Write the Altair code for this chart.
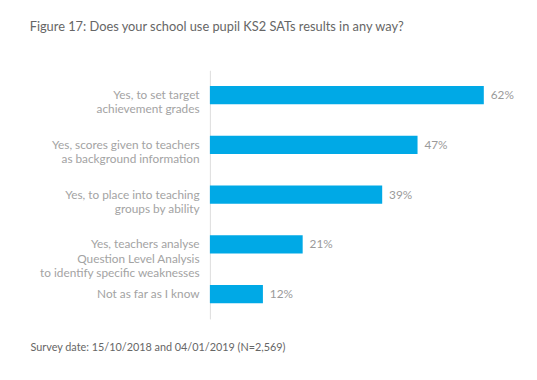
import altair as alt
import pandas as pd

categories = [
    "Yes, to set target|achievement grades",
    "Yes, scores given to teachers|as background information",
    "Yes, to place into teaching|groups by ability",
    "Yes, teachers analyse|Question Level Analysis|to identify specific weaknesses",
    "Not as far as I know",
]
values = [62, 47, 39, 21, 12]
value_labels = ["62%", "47%", "39%", "21%", "12%"]

df = pd.DataFrame({"cat": categories, "val": values, "lab": value_labels})

FONT = "Lato"

y = alt.Y(
    "cat:N",
    sort=categories,
    scale=alt.Scale(paddingInner=0.63, paddingOuter=0.315),
    axis=alt.Axis(
        title=None,
        labelExpr="split(datum.label, '|')",
        labelFontSize=12,
        labelLineHeight=14.5,
        labelColor="#a3a3a3",
        labelFont=FONT,
        labelPadding=11,
        labelLimit=300,
        ticks=False,
        domainColor="#dcdcdc",
        domainWidth=1,
        grid=False,
    ),
)

x = alt.X(
    "val:Q",
    scale=alt.Scale(domain=[0, 70]),
    axis=alt.Axis(
        labels=False,
        ticks=False,
        domain=False,
        grid=False,
        title="Survey date: 15/10/2018 and 04/01/2019 (N=2,569)",
        titleFont=FONT,
        titleFontSize=11,
        titleFontWeight="normal",
        titleColor="#666666",
        titleAnchor="start",
        titleAlign="left",
        titleBaseline="middle",
        titleX=-182.7,
        titleY=29,
    ),
)

bars = alt.Chart(df).mark_bar(color="#00A9E6").encode(x=x, y=y)
texts = alt.Chart(df).mark_text(
    align="left", baseline="middle", dx=7, fontSize=12, font=FONT, color="#9a9a9a"
).encode(x="val:Q", y=alt.Y("cat:N", sort=categories), text="lab:N")

chart = (
    alt.layer(bars, texts)
    .properties(
        width=314,
        height=252.5,
        autosize=alt.AutoSizeParams(type="none"),
        padding={"left": 205, "top": 60.5, "right": 10, "bottom": 45},
        title=alt.TitleParams(
            "Figure 17: Does your school use pupil KS2 SATs results in any way?",
            font=FONT,
            fontSize=13,
            fontWeight="normal",
            color="#666666",
            anchor="start",
            frame="group",
            dx=-183,
            offset=37,
        ),
    )
    .configure_view(stroke=None)
)

chart.save("out.html", embed_options={"renderer": "svg", "actions": False})
